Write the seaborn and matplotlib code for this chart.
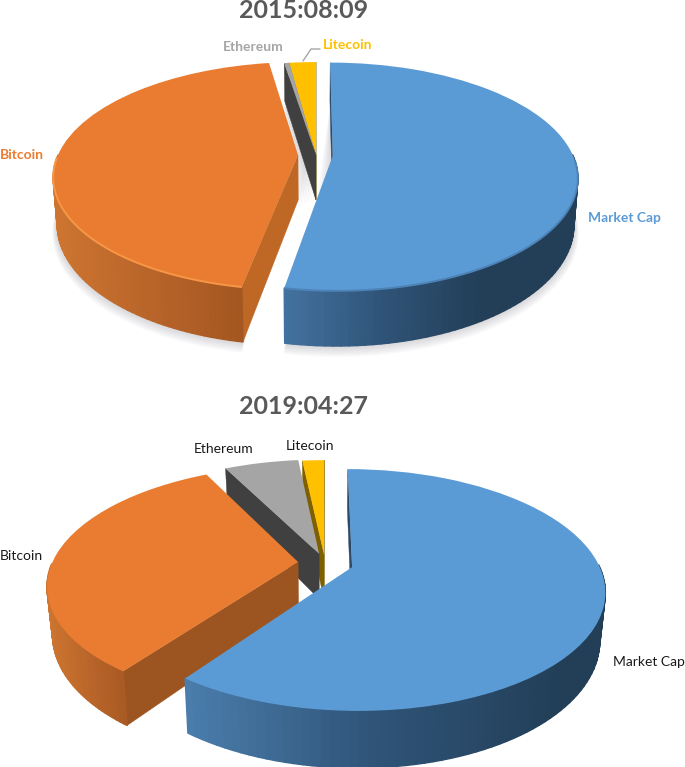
import numpy as np
import matplotlib
matplotlib.use("Agg")
import matplotlib.pyplot as plt
import seaborn as sns
from matplotlib.collections import PolyCollection
from matplotlib.colors import LinearSegmentedColormap, to_rgb
from matplotlib.transforms import Transform

sns.set_theme(style="white")
plt.rcParams['font.family'] = ['Lato', 'DejaVu Sans']

# values, share of the total in percent
labels = ["Market Cap", "Bitcoin", "Ethereum", "Litecoin"]
values_2015 = [52.85, 44.65, 0.4, 2.1]
values_2019 = [60.0, 32.5, 5.8, 1.7]
palette = sns.color_palette(["#5B9BD5", "#E97C30", "#A5A5A5", "#FFC000"])
cut_2015 = ["#2b4a68", "#BF6826", "#404040", "#7f6000"]
cut_2019 = ["#2b4a68", "#9C5420", "#404040", "#7f6000"]


class Perspective(Transform):
    # maps the flat pie (unit disc) on to the tilted disc, in picture pixels
    input_dims = 2
    output_dims = 2
    is_separable = False

    def __init__(self, cx, cy, a, b, k):
        super().__init__()
        self.cx, self.cy, self.a, self.b, self.k = cx, cy, a, b, k

    def transform_non_affine(self, values):
        u, v = np.asarray(values).T
        w = 1 + self.k * v
        return np.column_stack([self.cx + self.a * u / w, self.cy - self.b * v / w])


def project(p, u, v, depth=0.0, shrink=1.0):
    w = 1 + p.k * np.asarray(v)
    x = p.a * np.asarray(u) / w * shrink
    y = (-p.b * np.asarray(v) + depth) / w
    return x + p.cx, y + p.cy


def draw_pie(ax, values, geo, cuts, wall_cmaps, rim=None, shadow=False):
    p = Perspective(geo["cx"], geo["cy"], geo["a"], geo["b"], geo["k"])
    wedges, _ = ax.pie(values, explode=geo["explode"], startangle=90, counterclock=False,
                       colors=palette, wedgeprops=dict(linewidth=0))
    d, sh = geo["depth"], geo["shrink"]
    z = 5
    for i in [3, 2, 1, 0]:
        wg = wedges[i]
        cu, cv = wg.center
        t = np.radians(np.linspace(wg.theta1, wg.theta2, 120))
        ru, rv = cu + np.cos(t), cv + np.sin(t)

        if shadow:
            # soft shadow under the slice, a few pale layers growing outward
            for g in np.linspace(1, 9, 6):
                su = np.r_[cu - 0.008 * g, cu + 1.004 * np.cos(t)]
                sv = np.r_[cv, cv + 1.004 * np.sin(t)]
                sx, sy = project(p, su, sv, d + g * 0.9, sh * (1 + g * 0.0016))
                ax.fill(sx, sy, color="#7f7f8a", alpha=0.05, lw=0, zorder=1)

        # flat cut faces, only those turned to the viewer
        for th, sign in [(wg.theta1, -1), (wg.theta2, 1)]:
            if np.sin(np.radians(th + sign * 90)) < 0.02:
                eu, ev = cu + np.cos(np.radians(th)), cv + np.sin(np.radians(th))
                x0, y0 = project(p, [cu, eu], [cv, ev])
                x1, y1 = project(p, [eu, cu], [ev, cv], d, sh)
                ax.fill(np.r_[x0, x1], np.r_[y0, y1], color=cuts[i], lw=0.3, zorder=z)
        z += 1

        # outer wall as thin strips so the shade can run along it
        if wall_cmaps[i] is not None:
            cmap, x_lo, x_hi = wall_cmaps[i]
            polys, cols = [], []
            for j in range(len(t) - 1):
                if np.sin(t[j]) > 0.0:
                    continue
                xa, ya = project(p, ru[j:j + 2], rv[j:j + 2])
                xb, yb = project(p, ru[j:j + 2][::-1], rv[j:j + 2][::-1], d, sh)
                polys.append(np.column_stack([np.r_[xa, xb], np.r_[ya, yb]]))
                cols.append(cmap((xa.mean() - x_lo) / (x_hi - x_lo)))
            if polys:
                ax.add_collection(PolyCollection(polys, facecolors=cols, edgecolors=cols,
                                                 linewidths=1.0, zorder=z), autolim=False)
        else:
            col = cuts[i]
            front = np.sin(t) < 0.3
            xa, ya = project(p, ru[front], rv[front])
            xb, yb = project(p, ru[front][::-1], rv[front][::-1], d, sh)
            if front.any():
                ax.fill(np.r_[xa, xb], np.r_[ya, yb], color=col, lw=0.3, zorder=z)
        z += 1

        wg.set_transform(p + ax.transData)
        wg.set_zorder(z)
        wg.set_clip_on(False)
        z += 1

        if rim is not None and rim[i] is not None:
            front = np.sin(t) < -0.02
            xa, ya = project(p, ru[front], rv[front])
            ax.plot(xa, ya, color=rim[i], lw=1.4, zorder=z, solid_capstyle="butt")
        z += 1
    return wedges


def ramp(c1, c2, c3):
    return LinearSegmentedColormap.from_list("w", [to_rgb(c1), to_rgb(c2), to_rgb(c3)])


fig = plt.figure(figsize=(6.85, 7.67), dpi=100)
ax = fig.add_axes([0, 0, 1, 1])

blue_wall = ramp("#44729f", "#2f5478", "#233f58")
blue_wall_2 = ramp("#4a7dab", "#2f5478", "#233f58")
orange_wall = ramp("#cc7430", "#b8642a", "#a35620")

geo_2015 = dict(cx=316, cy=155, a=240, b=110, k=0.184, depth=45, shrink=0.985,
                explode=[0.07, 0.075, 0.0, 0.0])
geo_2019 = dict(cx=325, cy=563, a=246, b=115, k=0.188, depth=46, shrink=0.98,
                explode=[0.115, 0.11, 0.085, 0.075])

draw_pie(ax, values_2015, geo_2015, cut_2015,
         [(blue_wall, 284, 480), (orange_wall, 60, 245), None, None],
         rim=["#4d83b6", "#F79646", None, None], shadow=True)
draw_pie(ax, values_2019, geo_2019, cut_2019,
         [(blue_wall_2, 187, 560), (orange_wall, 50, 135), None, None])

ax.set_aspect("auto")
ax.set_xlim(0, 685)
ax.set_ylim(767, 0)
ax.axis("off")

title_kw = dict(ha="center", va="center", fontsize=18, fontweight="bold", color="#595959", zorder=100)
ax.text(304, 10, "2015:08:09", **title_kw)
ax.text(304, 406, "2019:04:27", **title_kw)

# labels of the first pie are in the slice colour
ax.text(253, 47, labels[2], ha="center", va="center", fontsize=10, fontweight="bold", color="#A5A5A5", zorder=100)
ax.text(348, 45, labels[3], ha="center", va="center", fontsize=10, fontweight="bold", color="#FFC000", zorder=100)
ax.text(0, 155, labels[1], ha="left", va="center", fontsize=10, fontweight="bold", color="#ED7D31", zorder=100)
ax.text(624, 218, labels[0], ha="center", va="center", fontsize=10, fontweight="bold", color="#5B9BD5", zorder=100)
ax.plot([303, 311, 320], [61, 49, 49], color="#A5A5A5", lw=1, zorder=100)

ax.text(224, 449, labels[2], ha="center", va="center", fontsize=10, color="#1a1a1a", zorder=100)
ax.text(310, 446, labels[3], ha="center", va="center", fontsize=10, color="#1a1a1a", zorder=100)
ax.text(0, 556, labels[1], ha="left", va="center", fontsize=10, color="#1a1a1a", zorder=100)
ax.text(649, 662, labels[0], ha="center", va="center", fontsize=10, color="#1a1a1a", zorder=100)

fig.savefig("out.png", dpi=100)
